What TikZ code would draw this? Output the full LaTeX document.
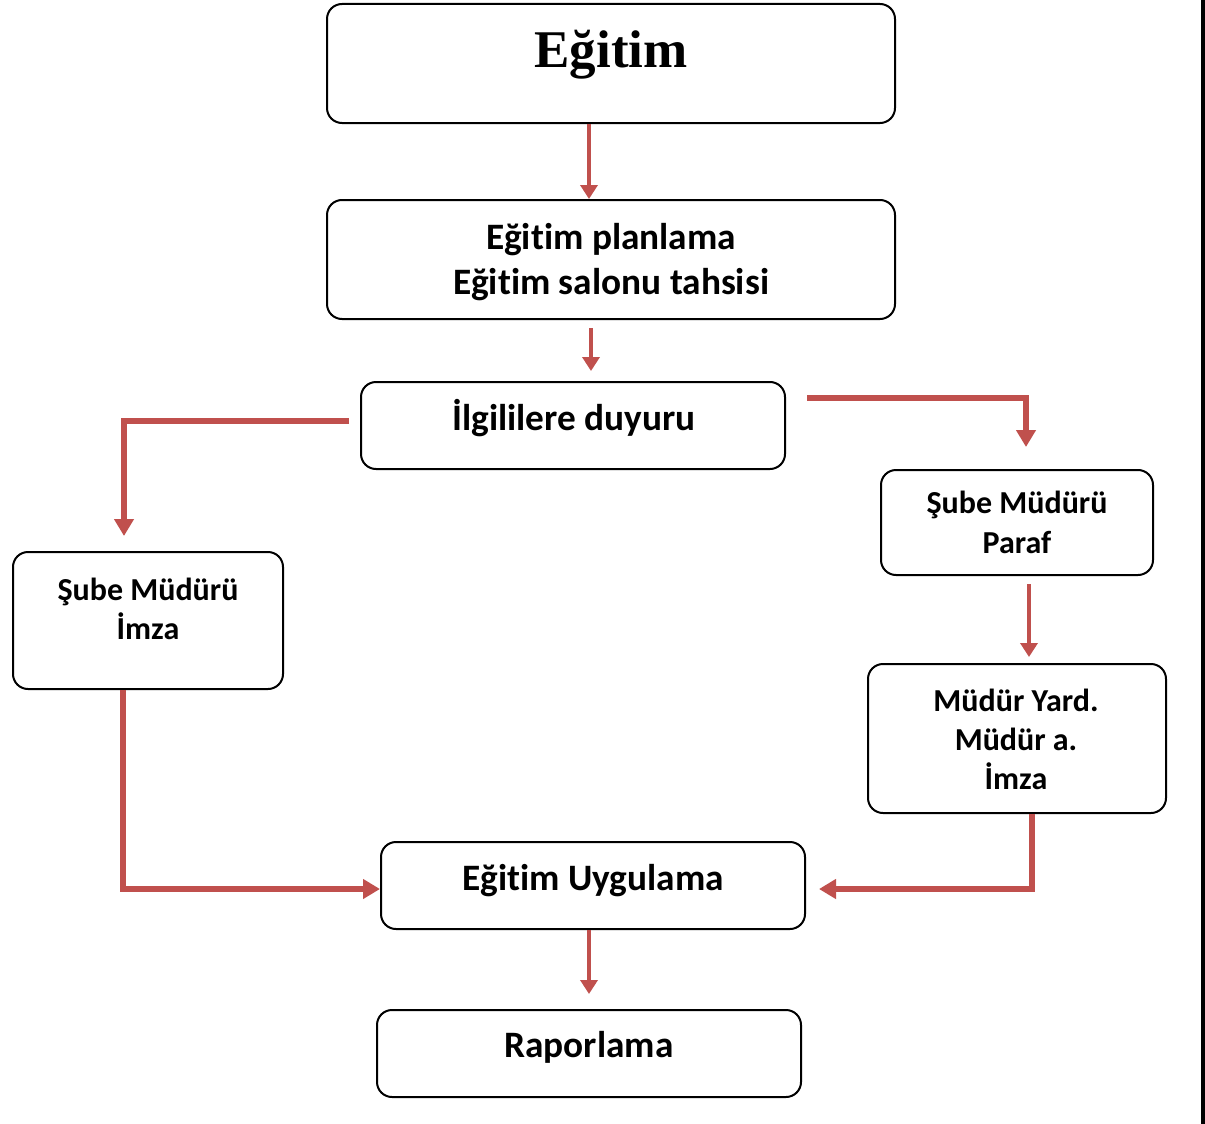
\documentclass[tikz,border=0pt]{standalone}
\usepackage{fontspec}
\setmainfont{Carlito}[Ligatures=NoCommon]
\newfontfamily\titlefont{Liberation Serif}
\usetikzlibrary{arrows.meta}
\definecolor{arrred}{HTML}{C0504D}
\begin{document}
\begin{tikzpicture}[x=1pt,y=-1pt,
  box/.style={draw=black, line width=2pt, rounded corners=15pt, inner sep=0pt},
  txt/.style={font=\fontsize{32}{40}\selectfont\bfseries, anchor=base, inner sep=0pt},
  bigtxt/.style={font=\fontsize{37.3}{45}\selectfont\bfseries, anchor=base, inner sep=0pt},
  thinarr/.style={draw=arrred, line width=4pt, -{Triangle[width=17pt,length=14pt]}},
  thickarr/.style={draw=arrred, line width=5.5pt, -{Triangle[width=19pt,length=17pt]}}]
\useasboundingbox (0,0) rectangle (1205,1124);
\fill[white] (0,0) rectangle (1205,1124);
\draw[line width=3.5pt] (1203,0) -- (1203,1124);

\node[box, minimum width=568pt, minimum height=119pt] (b1) at (611,63.5) {};
\node[box, minimum width=568pt, minimum height=119pt] (b2) at (611,259.5) {};
\node[box, minimum width=424pt, minimum height=87pt] (b3) at (573,425.5) {};
\node[box, minimum width=272pt, minimum height=105pt] (b4) at (1017,522.5) {};
\node[box, minimum width=270pt, minimum height=137pt] (b5) at (148,620.5) {};
\node[box, minimum width=298pt, minimum height=149pt] (b6) at (1017,738.5) {};
\node[box, minimum width=424pt, minimum height=87pt] (b7) at (593,885.5) {};
\node[box, minimum width=424pt, minimum height=87pt] (b8) at (589,1053.5) {};

\node[font=\titlefont\fontsize{53}{60}\selectfont\bfseries, anchor=base, inner sep=0pt] (t1) at (611,68) {Eğitim};
\node[bigtxt] (t2a) at (611,249) {Eğitim planlama};
\node[bigtxt] (t2b) at (611,294) {Eğitim salonu tahsisi};
\node[bigtxt] (t3) at (574,430) {İlgililere duyuru};
\node[txt] (t4a) at (1017,513) {Şube Müdürü};
\node[txt] (t4b) at (1017,553) {Paraf};
\node[txt] (t5a) at (148,600) {Şube Müdürü};
\node[txt] (t5b) at (148,639) {İmza};
\node[txt] (t6a) at (1016,711) {Müdür Yard.};
\node[txt] (t6b) at (1016,750) {Müdür a.};
\node[txt] (t6c) at (1016,789) {İmza};
\node[bigtxt] (t7) at (593,890) {Eğitim Uygulama};
\node[bigtxt] (t8) at (589,1057) {Raporlama};

\draw[thinarr] ([xshift=-22pt]b1.south) -- ([xshift=-22pt]b2.north);
\draw[thinarr] ([xshift=-20pt,yshift=-8pt]b2.south) -- ([xshift=18pt,yshift=10pt]b3.north);
\draw[thickarr] ([xshift=-11pt,yshift=4.5pt]b3.west) -| ([xshift=-24pt,yshift=15pt]b5.north);
\draw[thickarr] ([xshift=21pt,yshift=27.5pt]b3.east) -| ([xshift=9pt,yshift=22pt]b4.north);
\draw[thinarr] ([xshift=12pt,yshift=-8pt]b4.south) -- ([xshift=12pt,yshift=6pt]b6.north);
\draw[thickarr] ([xshift=-25pt]b5.south) |- ([yshift=-3.5pt]b7.west);
\draw[thickarr] ([xshift=15pt]b6.south) |- ([xshift=13pt,yshift=-3.5pt]b7.east);
\draw[thinarr] ([xshift=-4pt]b7.south) -- ([yshift=15pt]b8.north);
\end{tikzpicture}
\end{document}
